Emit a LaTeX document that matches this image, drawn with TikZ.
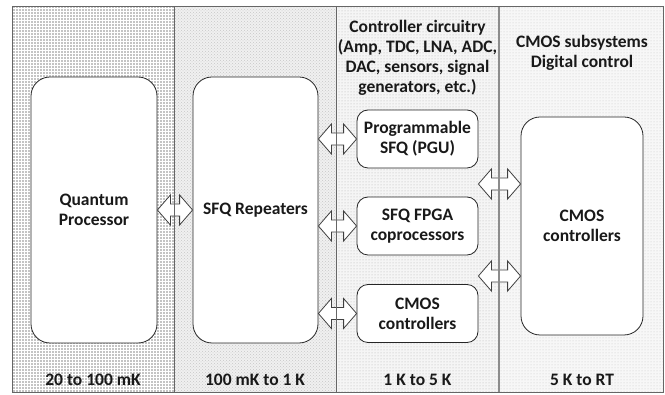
\documentclass[tikz,border=0pt]{standalone}
\usepackage{fontspec}
\setmainfont{Carlito}
\usetikzlibrary{patterns,calc}
\tikzset{
  txt/.style={font=\bfseries\fontsize{17.5}{20}\selectfont, align=center, text=black!90, inner sep=0pt},
  bigbox/.style={txt, draw=black!85, line width=0.8pt, fill=white, rounded corners=19pt},
  smallbox/.style={txt, draw=black!85, line width=0.8pt, fill=white, rounded corners=11pt, minimum width=121pt, minimum height=58pt},
  arr/.style={draw=black!75, line width=0.8pt, fill=white, line join=miter},
  divider/.style={draw=black!60, line width=0.8pt}
}
\newcommand\fatarrow[2]{%
  \draw[arr] let \p1=(#1), \p2=(#2) in
    (\x1,\y1) -- (\x1+13pt,\y1+15pt) -- (\x1+13pt,\y1+6pt) -- (\x2-13pt,\y1+6pt)
    -- (\x2-13pt,\y1+15pt) -- (\x2,\y1) -- (\x2-13pt,\y1-15pt) -- (\x2-13pt,\y1-6pt)
    -- (\x1+13pt,\y1-6pt) -- (\x1+13pt,\y1-15pt) -- cycle;}
\begin{document}
\begin{tikzpicture}[x=1pt,y=-1pt]
\useasboundingbox (0,0) rectangle (665,395);
% panels
\fill[black!23] (12,6) rectangle (174,392);
\fill[pattern=grid, pattern color=white] (12,6) rectangle (174,392);
\fill[black!6] (174,6) rectangle (336,392);
\fill[pattern=crosshatch dots, pattern color=black!22] (174,6) rectangle (336,392);
\fill[black!4] (336,6) rectangle (499,392);
\fill[pattern=dots, pattern color=black!30] (336,6) rectangle (499,392);
\fill[black!3] (499,6) rectangle (663,392);
\fill[pattern=dots, pattern color=black!22] (499,6) rectangle (663,392);
% boxes
\node[bigbox, minimum width=126pt, minimum height=266pt] (qp) at (94,210) {Quantum\\Processor};
\node[bigbox, minimum width=125pt, minimum height=266pt] (sfq) at (255.5,210) {SFQ Repeaters};
\node[smallbox] (pgu) at (417.5,139) {Programmable\\SFQ (PGU)};
\node[smallbox] (fpga) at (417.5,226) {SFQ FPGA\\coprocessors};
\node[smallbox] (cmc) at (417.5,313.5) {CMOS\\controllers};
\node[bigbox, minimum width=122pt, minimum height=218pt] (cm4) at (582,226) {CMOS\\controllers};
% arrows
\fatarrow{qp.east}{sfq.west}
\fatarrow{sfq.east |- pgu.west}{pgu.west}
\fatarrow{sfq.east |- fpga.west}{fpga.west}
\fatarrow{sfq.east |- cmc.west}{cmc.west}
\fatarrow{$(fpga.east)+(0,-42)$}{cm4.west}
\fatarrow{$(fpga.east)+(0,50)$}{cm4.west}
% dividers and frame
\draw[divider] (174,6) -- (174,392);
\draw[divider] (336,6) -- (336,392);
\draw[divider, draw=black!45, line width=1.4pt] (499,6) -- (499,392);
\draw[draw=black!60, line width=0.8pt] (12,6) rectangle (663,392);
% titles
\node[txt] (t3) at (417.5,58) {Controller circuitry\\(Amp, TDC, LNA, ADC,\\DAC, sensors, signal\\generators, etc.)};
\node[txt] (t4) at (582,53) {CMOS subsystems\\Digital control};
% temperature labels
\node[txt] (l1) at (93,380) {20 to 100 mK};
\node[txt] (l2) at (255,380) {100 mK to 1 K};
\node[txt] (l3) at (417.5,380) {1 K to 5 K};
\node[txt] (l4) at (582,380) {5 K to RT};
\end{tikzpicture}
\end{document}
